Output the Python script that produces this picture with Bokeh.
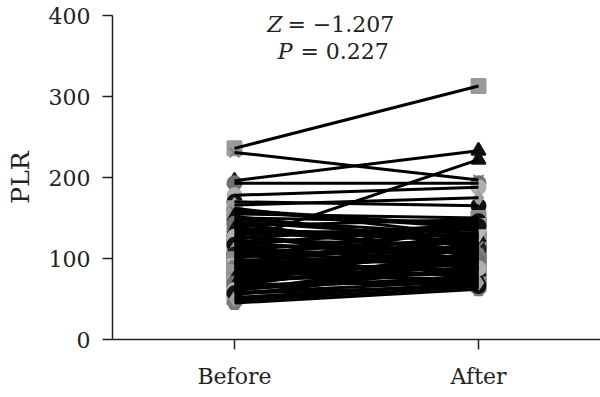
from bokeh.plotting import figure
from bokeh.models import FactorRange, Range1d, Label, FixedTicker, ColumnDataSource
from bokeh.embed import file_html
from bokeh.resources import INLINE

# ---- data ----
categories = ["Before", "After"]
before = [236, 231, 196, 193, 120, 178, 170, 166, 160, 155,
          150, 148, 145, 140, 138, 135, 132, 130, 128, 125,
          122, 120, 118, 115, 113, 110, 108, 106, 104, 102,
          100, 98, 96, 95, 93, 92, 90, 88, 87, 85,
          84, 82, 80, 79, 78, 76, 75, 73, 72, 70,
          68, 66, 64, 62, 60, 58, 55, 52, 48, 45,
          162, 158, 152, 143, 136, 127, 117, 111, 105, 99,
          94, 89, 83, 77, 74, 69, 65, 61, 57, 50]
after = [313, 197, 233, 193, 222, 188, 165, 175, 140, 150,
         145, 130, 125, 148, 120, 110, 135, 128, 105, 142,
         118, 100, 138, 112, 95, 132, 108, 125, 90, 115,
         146, 102, 85, 122, 98, 110, 140, 92, 118, 80,
         105, 96, 130, 88, 75, 112, 100, 82, 120, 95,
         70, 108, 86, 78, 100, 72, 90, 68, 65, 62,
         128, 138, 118, 105, 126, 98, 140, 88, 112, 76,
         130, 104, 92, 115, 84, 96, 74, 88, 66, 70]
y_ticks = [0, 100, 200, 300, 400]
z_text = "= \u22121.207"
p_text = "= 0.227"

FONT = "DejaVu Serif"

# styles (cycled per subject)
marker_cycle = ["square", "x", "triangle", "circle", "triangle", "circle", "circle",
                "diamond", "circle", "square", "inverted_triangle", "hex"]
color_cycle = ["#9a9a9a", "#808080", "#111111", "#707070", "#111111", "#b0b0b0",
               "#111111", "#a0a0a0", "#222222", "#8c8c8c", "#b8b8b8", "#7a7a7a"]

n = len(before)
xs_b = [categories[0]] * n
xs_a = [categories[1]] * n
markers = [marker_cycle[i % len(marker_cycle)] for i in range(n)]
colors = [color_cycle[i % len(color_cycle)] for i in range(n)]

p = figure(width=600, height=397, output_backend="svg", toolbar_location=None,
           x_range=FactorRange(factors=categories, range_padding=0),
           y_range=Range1d(0, 400),
           min_border_left=112, min_border_right=0, min_border_top=15, min_border_bottom=58)

src = ColumnDataSource(dict(
    x=xs_b + xs_a,
    y=before + after,
    marker=markers + markers,
    color=colors + colors,
))
p.scatter(x="x", y="y", marker="marker", size=14, fill_color="color",
          line_color="color", line_width=2, source=src)

p.multi_line(xs=[[categories[0], categories[1]] for _ in range(n)],
             ys=[[b, a] for b, a in zip(before, after)],
             line_color="black", line_width=3)

# axes styling
p.grid.visible = False
p.outline_line_color = None
p.background_fill_color = "white"
p.border_fill_color = "white"

p.yaxis.ticker = FixedTicker(ticks=y_ticks)
p.yaxis.minor_tick_line_color = None
p.yaxis.axis_label = "PLR"
for ax in (p.xaxis[0], p.yaxis[0]):
    ax.axis_line_color = "#222222"
    ax.axis_line_width = 1.5
    ax.major_tick_line_color = "#222222"
    ax.major_tick_line_width = 1.5
    ax.major_tick_out = 10
    ax.major_tick_in = 0
    ax.major_label_text_font = FONT
    ax.major_label_text_font_size = "22px"
    ax.major_label_text_color = "#222222"
    ax.axis_label_text_font = FONT
    ax.axis_label_text_font_size = "25px"
    ax.axis_label_text_font_style = "normal"
    ax.axis_label_text_color = "#222222"
p.yaxis.major_label_standoff = 12
p.yaxis.axis_label_standoff = 11
p.xaxis.major_label_standoff = 14

# annotation
p.add_layout(Label(x=0.697, y=389, text="Z", text_font=FONT, text_font_style="italic",
                   text_font_size="22px", text_align="right", text_baseline="alphabetic",
                   text_color="#222222"))
p.add_layout(Label(x=0.717, y=389, text=z_text, text_font=FONT,
                   text_font_size="22px", text_align="left", text_baseline="alphabetic",
                   text_color="#222222"))
p.add_layout(Label(x=0.738, y=355, text="P", text_font=FONT, text_font_style="italic",
                   text_font_size="22px", text_align="right", text_baseline="alphabetic",
                   text_color="#222222"))
p.add_layout(Label(x=0.770, y=355, text=p_text, text_font=FONT,
                   text_font_size="22px", text_align="left", text_baseline="alphabetic",
                   text_color="#222222"))

open("out.html", "w").write(file_html(p, INLINE))
